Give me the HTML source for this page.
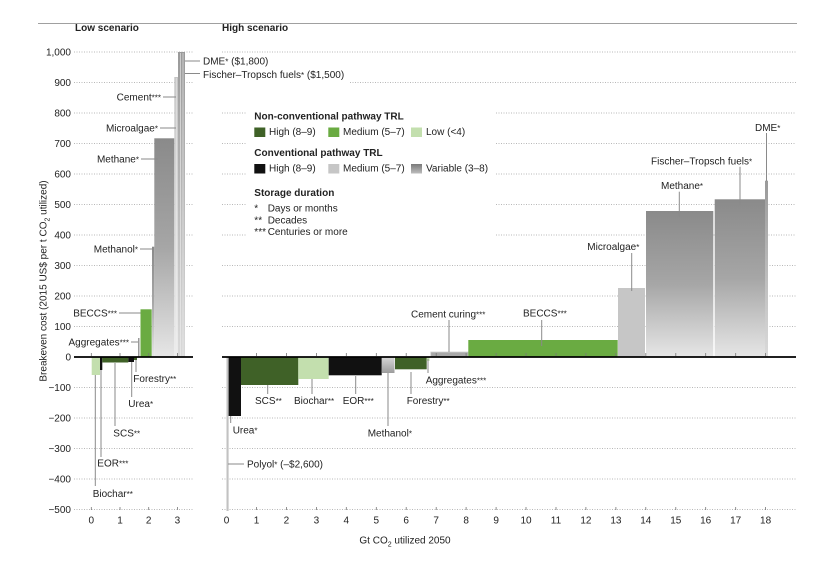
<!DOCTYPE html>
<html><head><meta charset="utf-8"><style>
html,body{margin:0;padding:0;background:#fff;}
svg{display:block;}
text{font-family:"Liberation Sans",Arial,sans-serif;fill:#222;font-size:10px;}
.b{font-weight:bold;}
.t{fill:#333;}
</style></head><body>
<svg width="829" height="572" viewBox="0 0 829 572" xmlns="http://www.w3.org/2000/svg">
<defs>
<linearGradient id="gv" x1="0" y1="0" x2="0" y2="1"><stop offset="0" stop-color="#8a8a8a"/><stop offset="0.5" stop-color="#a6a6a6"/><stop offset="1" stop-color="#e6e6e6"/></linearGradient>
<linearGradient id="gl" x1="0" y1="0" x2="0" y2="1"><stop offset="0" stop-color="#c4c4c4"/><stop offset="1" stop-color="#ececec"/></linearGradient>
<linearGradient id="gd" x1="0" y1="0" x2="0" y2="1"><stop offset="0" stop-color="#9a9a9a"/><stop offset="1" stop-color="#dadada"/></linearGradient>
<linearGradient id="gm" x1="0" y1="0" x2="0" y2="1"><stop offset="0" stop-color="#d8d8d8"/><stop offset="1" stop-color="#9c9c9c"/></linearGradient>
<linearGradient id="gleg" x1="0" y1="0" x2="0" y2="1"><stop offset="0" stop-color="#7a7a7a"/><stop offset="1" stop-color="#bdbdbd"/></linearGradient>
</defs>
<rect width="829" height="572" fill="#fff"/>
<!-- top rule -->
<line x1="38" y1="23.5" x2="797" y2="23.5" stroke="#a0a0a0" stroke-width="1"/>
<text class="b" x="75" y="31">Low scenario</text>
<text class="b" x="222" y="31">High scenario</text>

<!-- gridlines -->
<g stroke="#b8b8b8" stroke-width="1" stroke-dasharray="1,1.5">
<line x1="74" y1="52" x2="193" y2="52"/><line x1="222" y1="52" x2="796" y2="52"/>
<line x1="74" y1="82.5" x2="193" y2="82.5"/><line x1="350" y1="82.5" x2="796" y2="82.5"/>
<line x1="74" y1="113" x2="193" y2="113"/><line x1="222" y1="113" x2="247" y2="113"/><line x1="496" y1="113" x2="796" y2="113"/>
<line x1="74" y1="143.5" x2="193" y2="143.5"/><line x1="222" y1="143.5" x2="247" y2="143.5"/><line x1="496" y1="143.5" x2="796" y2="143.5"/>
<line x1="74" y1="174" x2="193" y2="174"/><line x1="222" y1="174" x2="247" y2="174"/><line x1="496" y1="174" x2="796" y2="174"/>
<line x1="74" y1="204.5" x2="193" y2="204.5"/><line x1="222" y1="204.5" x2="247" y2="204.5"/><line x1="496" y1="204.5" x2="796" y2="204.5"/>
<line x1="74" y1="235" x2="193" y2="235"/><line x1="222" y1="235" x2="247" y2="235"/><line x1="496" y1="235" x2="796" y2="235"/>
<line x1="74" y1="265.5" x2="193" y2="265.5"/><line x1="222" y1="265.5" x2="796" y2="265.5"/>
<line x1="74" y1="296" x2="193" y2="296"/><line x1="222" y1="296" x2="796" y2="296"/>
<line x1="74" y1="326.5" x2="193" y2="326.5"/><line x1="222" y1="326.5" x2="796" y2="326.5"/>
<line x1="74" y1="387.5" x2="193" y2="387.5"/><line x1="222" y1="387.5" x2="796" y2="387.5"/>
<line x1="74" y1="418" x2="193" y2="418"/><line x1="222" y1="418" x2="796" y2="418"/>
<line x1="74" y1="448.5" x2="193" y2="448.5"/><line x1="222" y1="448.5" x2="796" y2="448.5"/>
<line x1="74" y1="479" x2="193" y2="479"/><line x1="222" y1="479" x2="796" y2="479"/>
<line x1="74" y1="509.5" x2="193" y2="509.5"/><line x1="222" y1="509.5" x2="796" y2="509.5"/>
</g>

<!-- y tick labels -->
<g class="t" text-anchor="end">
<text x="71" y="55.5">1,000</text><text x="71" y="86">900</text><text x="71" y="116.5">800</text><text x="71" y="147">700</text>
<text x="71" y="177.5">600</text><text x="71" y="208">500</text><text x="71" y="238.5">400</text><text x="71" y="269">300</text>
<text x="71" y="299.5">200</text><text x="71" y="330">100</text><text x="71" y="360.5">0</text><text x="71" y="391">−100</text>
<text x="71" y="421.5">−200</text><text x="71" y="452">−300</text><text x="71" y="482.5">−400</text><text x="71" y="513">−500</text>
</g>
<text x="43" y="281" text-anchor="middle" transform="rotate(-90 43 281)" dy="3.5">Breakeven cost (2015 US$ per t CO<tspan font-size="7" dy="3">2</tspan><tspan dy="-3"> utilized)</tspan></text>

<!-- LEFT bars -->
<rect x="91.7" y="357" width="8.3" height="18" fill="#c3dfae"/>
<rect x="100" y="357" width="2.3" height="13" fill="#111"/>
<rect x="102.3" y="357" width="26" height="5.5" fill="#3f6127"/>
<rect x="128.3" y="357" width="5.7" height="5" fill="#111"/>
<rect x="134" y="357" width="3" height="3" fill="#3f6127"/>
<rect x="138" y="338" width="1.5" height="19" fill="#9a9a9a"/>
<rect x="140.5" y="309.3" width="11.2" height="47.7" fill="#6aab42"/>
<rect x="152" y="246.7" width="2.3" height="110.3" fill="url(#gv)"/>
<rect x="154.3" y="138.3" width="20" height="218.7" fill="url(#gv)"/>
<rect x="174.3" y="77" width="3.7" height="280" fill="url(#gl)"/>
<rect x="178" y="52" width="7" height="305" fill="url(#gd)"/>
<g stroke="#eee" stroke-width="0.6"><line x1="176.2" y1="78" x2="176.2" y2="357"/><line x1="180.5" y1="53" x2="180.5" y2="357"/><line x1="183" y1="53" x2="183" y2="357"/></g>

<!-- RIGHT bars -->
<rect x="226.5" y="357" width="2.1" height="154" fill="#c2c2c2"/>
<rect x="228.6" y="357" width="12.4" height="59" fill="#111"/>
<rect x="241" y="357" width="57.3" height="28" fill="#3f6127"/>
<rect x="298.3" y="357" width="30.4" height="22" fill="#c3dfae"/>
<rect x="328.7" y="357" width="53" height="18.3" fill="#111"/>
<rect x="382" y="357" width="12.5" height="16" fill="url(#gm)"/>
<rect x="395" y="357" width="31.7" height="12.3" fill="#3f6127"/>
<rect x="426.7" y="357" width="2.8" height="4" fill="#c3dfae"/>
<rect x="430.7" y="352" width="37.6" height="5" fill="#a8a8a8" stroke="#cfcfcf" stroke-width="0.8"/>
<rect x="468.3" y="340" width="149.4" height="17" fill="#6aab42"/>
<rect x="618" y="288" width="27" height="69" fill="#c6c6c6"/>
<rect x="646" y="211" width="67.3" height="146" fill="url(#gv)"/>
<rect x="714.7" y="199.3" width="50.3" height="157.7" fill="url(#gv)"/>
<rect x="765" y="180.7" width="3" height="176.3" fill="url(#gd)"/>

<!-- zero lines -->
<line x1="74" y1="357" x2="193" y2="357" stroke="#000" stroke-width="1.8"/>
<line x1="222" y1="357" x2="796" y2="357" stroke="#000" stroke-width="1.8"/>

<!-- ticks -->
<g stroke="#777" stroke-width="0.8">
<line x1="91.3" y1="353" x2="91.3" y2="356"/><line x1="120" y1="353" x2="120" y2="356"/><line x1="148.7" y1="353" x2="148.7" y2="356"/><line x1="177.4" y1="353" x2="177.4" y2="356"/>
<line x1="91.3" y1="507" x2="91.3" y2="510"/><line x1="120" y1="507" x2="120" y2="510"/><line x1="148.7" y1="507" x2="148.7" y2="510"/><line x1="177.4" y1="507" x2="177.4" y2="510"/>
</g>
<g stroke="#777" stroke-width="0.8">
<line x1="256.5" y1="353" x2="256.5" y2="356"/><line x1="286.4" y1="353" x2="286.4" y2="356"/><line x1="316.4" y1="353" x2="316.4" y2="356"/><line x1="346.3" y1="353" x2="346.3" y2="356"/><line x1="376.3" y1="353" x2="376.3" y2="356"/><line x1="406.2" y1="353" x2="406.2" y2="356"/><line x1="436.2" y1="353" x2="436.2" y2="356"/><line x1="466.1" y1="353" x2="466.1" y2="356"/><line x1="496.1" y1="353" x2="496.1" y2="356"/><line x1="526" y1="353" x2="526" y2="356"/><line x1="556" y1="353" x2="556" y2="356"/><line x1="585.9" y1="353" x2="585.9" y2="356"/><line x1="615.9" y1="353" x2="615.9" y2="356"/><line x1="645.8" y1="353" x2="645.8" y2="356"/><line x1="675.8" y1="353" x2="675.8" y2="356"/><line x1="705.7" y1="353" x2="705.7" y2="356"/><line x1="735.7" y1="353" x2="735.7" y2="356"/><line x1="765.6" y1="353" x2="765.6" y2="356"/>
<line x1="256.5" y1="507" x2="256.5" y2="510"/><line x1="286.4" y1="507" x2="286.4" y2="510"/><line x1="316.4" y1="507" x2="316.4" y2="510"/><line x1="346.3" y1="507" x2="346.3" y2="510"/><line x1="376.3" y1="507" x2="376.3" y2="510"/><line x1="406.2" y1="507" x2="406.2" y2="510"/><line x1="436.2" y1="507" x2="436.2" y2="510"/><line x1="466.1" y1="507" x2="466.1" y2="510"/><line x1="496.1" y1="507" x2="496.1" y2="510"/><line x1="526" y1="507" x2="526" y2="510"/><line x1="556" y1="507" x2="556" y2="510"/><line x1="585.9" y1="507" x2="585.9" y2="510"/><line x1="615.9" y1="507" x2="615.9" y2="510"/><line x1="645.8" y1="507" x2="645.8" y2="510"/><line x1="675.8" y1="507" x2="675.8" y2="510"/><line x1="705.7" y1="507" x2="705.7" y2="510"/><line x1="735.7" y1="507" x2="735.7" y2="510"/><line x1="765.6" y1="507" x2="765.6" y2="510"/>
</g>

<!-- x tick labels -->
<g class="t" text-anchor="middle">
<text x="91.3" y="523.5">0</text><text x="120" y="523.5">1</text><text x="148.7" y="523.5">2</text><text x="177.4" y="523.5">3</text>
<text x="226.5" y="523.5">0</text><text x="256.5" y="523.5">1</text><text x="286.4" y="523.5">2</text><text x="316.4" y="523.5">3</text><text x="346.3" y="523.5">4</text><text x="376.3" y="523.5">5</text><text x="406.2" y="523.5">6</text><text x="436.2" y="523.5">7</text><text x="466.1" y="523.5">8</text><text x="496.1" y="523.5">9</text><text x="526" y="523.5">10</text><text x="556" y="523.5">11</text><text x="585.9" y="523.5">12</text><text x="615.9" y="523.5">13</text><text x="645.8" y="523.5">14</text><text x="675.8" y="523.5">15</text><text x="705.7" y="523.5">16</text><text x="735.7" y="523.5">17</text><text x="765.6" y="523.5">18</text>
</g>
<text x="405" y="543.5" text-anchor="middle">Gt CO<tspan font-size="7" dy="3">2</tspan><tspan dy="-3"> utilized 2050</tspan></text>

<!-- leader lines -->
<g stroke="#8a8a8a" stroke-width="1">
<!-- left -->
<line x1="185" y1="61" x2="200" y2="61"/><line x1="185" y1="73.5" x2="200" y2="73.5"/>
<line x1="163" y1="97" x2="176" y2="97"/><line x1="160" y1="128" x2="176" y2="128"/>
<line x1="141" y1="159" x2="158" y2="159"/><line x1="140" y1="249" x2="153" y2="249"/>
<line x1="119" y1="313" x2="140.5" y2="313"/><line x1="131" y1="342" x2="138" y2="342"/>
<line x1="136" y1="360" x2="136" y2="372"/><line x1="131.7" y1="362" x2="131.7" y2="397"/>
<line x1="115" y1="363" x2="115" y2="426"/><line x1="101" y1="370" x2="101" y2="457"/>
<line x1="95.3" y1="375" x2="95.3" y2="486"/>
<!-- right -->
<line x1="766.5" y1="133" x2="766.5" y2="181"/><line x1="740" y1="166.7" x2="740" y2="205"/>
<line x1="679.3" y1="191.7" x2="679.3" y2="217"/><line x1="631.7" y1="253" x2="631.7" y2="291"/>
<line x1="541.7" y1="320" x2="541.7" y2="346"/><line x1="449" y1="320" x2="449" y2="352"/>
<line x1="428" y1="359" x2="428" y2="373"/><line x1="411" y1="372" x2="411" y2="394"/>
<line x1="388" y1="373" x2="388" y2="426"/><line x1="355.7" y1="376" x2="355.7" y2="394"/>
<line x1="312" y1="379" x2="312" y2="394"/><line x1="267.7" y1="385" x2="267.7" y2="394"/>
<line x1="230.7" y1="416" x2="230.7" y2="423"/><line x1="228" y1="464" x2="244" y2="464"/>
</g>

<!-- left labels -->
<text x="203" y="64.5">DME<tspan font-size="8">*</tspan> ($1,800)</text>
<text x="203" y="78">Fischer–Tropsch fuels<tspan font-size="8">*</tspan> ($1,500)</text>
<g text-anchor="end">
<text x="161" y="100.5">Cement<tspan font-size="8">***</tspan></text>
<text x="158" y="131.5">Microalgae<tspan font-size="8">*</tspan></text>
<text x="139" y="162.5">Methane<tspan font-size="8">*</tspan></text>
<text x="138" y="252.5">Methanol<tspan font-size="8">*</tspan></text>
<text x="117" y="316.5">BECCS<tspan font-size="8">***</tspan></text>
<text x="129" y="345.5">Aggregates<tspan font-size="8">***</tspan></text>
</g>
<text x="133.3" y="382">Forestry<tspan font-size="8">**</tspan></text>
<text x="128.3" y="407">Urea<tspan font-size="8">*</tspan></text>
<text x="113.3" y="436.5">SCS<tspan font-size="8">**</tspan></text>
<text x="97.3" y="466.5">EOR<tspan font-size="8">***</tspan></text>
<text x="92.7" y="497">Biochar<tspan font-size="8">**</tspan></text>

<!-- right labels -->
<text x="755" y="131">DME<tspan font-size="8">*</tspan></text>
<text x="651" y="164.3">Fischer–Tropsch fuels<tspan font-size="8">*</tspan></text>
<text x="661" y="189.2">Methane<tspan font-size="8">*</tspan></text>
<text x="587.3" y="250.2">Microalgae<tspan font-size="8">*</tspan></text>
<text x="523" y="316.5">BECCS<tspan font-size="8">***</tspan></text>
<text x="411" y="317.5">Cement curing<tspan font-size="8">***</tspan></text>
<text x="425.7" y="383.5">Aggregates<tspan font-size="8">***</tspan></text>
<text x="406.7" y="404">Forestry<tspan font-size="8">**</tspan></text>
<text x="367.7" y="436.5">Methanol<tspan font-size="8">*</tspan></text>
<text x="342.7" y="404">EOR<tspan font-size="8">***</tspan></text>
<text x="294" y="404">Biochar<tspan font-size="8">**</tspan></text>
<text x="255" y="404">SCS<tspan font-size="8">**</tspan></text>
<text x="232.7" y="433.5">Urea<tspan font-size="8">*</tspan></text>
<text x="247" y="467.5">Polyol<tspan font-size="8">*</tspan> (–$2,600)</text>

<!-- legend -->
<text class="b" x="254.3" y="119.5">Non-conventional pathway TRL</text>
<rect x="254.3" y="127.5" width="11" height="9.5" fill="#3f6127"/>
<text x="269" y="135">High (8–9)</text>
<rect x="328.3" y="127.5" width="11" height="9.5" fill="#6aab42"/>
<text x="343" y="135">Medium (5–7)</text>
<rect x="411" y="127.5" width="11" height="9.5" fill="#c3dfae"/>
<text x="426" y="135">Low (&lt;4)</text>
<text class="b" x="254.3" y="156">Conventional pathway TRL</text>
<rect x="254.3" y="164" width="11" height="9.5" fill="#111"/>
<text x="269" y="171.5">High (8–9)</text>
<rect x="328.3" y="164" width="11" height="9.5" fill="#c6c6c6"/>
<text x="343" y="171.5">Medium (5–7)</text>
<rect x="411" y="164" width="11" height="9.5" fill="url(#gleg)"/>
<text x="426" y="171.5">Variable (3–8)</text>
<text class="b" x="254.3" y="196">Storage duration</text>
<text x="254.3" y="211.5" font-size="8">*</text><text x="267.7" y="211.5">Days or months</text>
<text x="254.3" y="223.5" font-size="8">**</text><text x="267.7" y="223.5">Decades</text>
<text x="254.3" y="235" font-size="8">***</text><text x="267.7" y="235">Centuries or more</text>
</svg>
</body></html>
